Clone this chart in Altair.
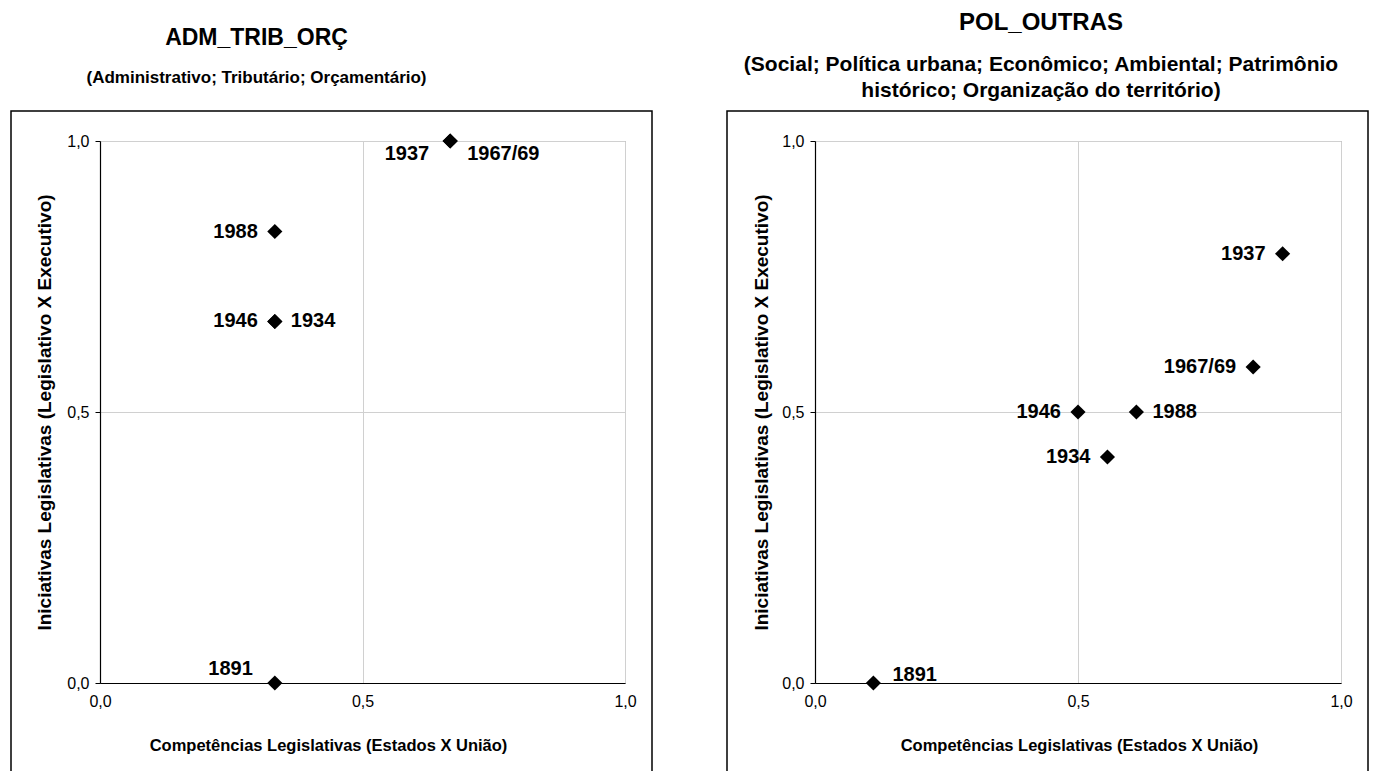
import altair as alt
import pandas as pd

# ---------------- data ----------------
adm_years = ["1891", "1988", "1946", "1934", "1937", "1967/69"]
adm_x = [0.333, 0.333, 0.333, 0.333, 0.667, 0.667]
adm_y = [0.0, 0.833, 0.667, 0.667, 1.0, 1.0]
adm_place = ["above-left", "left", "left", "right", "below-left", "below-right"]

pol_years = ["1891", "1946", "1988", "1934", "1967/69", "1937"]
pol_x = [0.111, 0.5, 0.611, 0.556, 0.833, 0.889]
pol_y = [0.0, 0.5, 0.5, 0.417, 0.583, 0.792]
pol_place = ["above-right", "left", "right", "left", "left", "left"]

tick_values = [0.0, 0.5, 1.0]

adm_title = "ADM_TRIB_ORÇ"
adm_subtitle = ["(Administrativo; Tributário; Orçamentário)"]
pol_title = "POL_OUTRAS"
pol_subtitle = ["(Social; Política urbana; Econômico; Ambiental; Patrimônio",
                "histórico; Organização do território)"]

x_title = "Competências Legislativas (Estados X União)"
y_title = "Iniciativas Legislativas  (Legislativo X Executivo)"

FONT = "Liberation Sans"

# label placement styles (kept in code, not in data)
PLACE = {
    "left": dict(align="right", dx=-17, dy=0),
    "right": dict(align="left", dx=16, dy=0),
    "above-left": dict(align="right", dx=-22, dy=-14),
    "above-right": dict(align="left", dx=19, dy=-8),
    "below-left": dict(align="right", dx=-21, dy=13),
    "below-right": dict(align="left", dx=17, dy=13),
}

LABEL_EXPR = "replace(format(datum.value, '.1f'), '.', ',')"


def panel(years, xs, ys, places, width, title, subtitle, title_dx, title_offset,
          title_size, sub_size, sub_pad, sub_lh,
          xtitle_x, ytitle_x, box_left, box_right):
    df = pd.DataFrame({"year": years, "x": xs, "y": ys, "place": places})
    xenc = alt.X("x:Q", scale=alt.Scale(domain=[0, 1], nice=False),
                 axis=alt.Axis(values=tick_values, labelExpr=LABEL_EXPR, title=x_title,
                               ticks=False, labelPadding=10, labelFlush=False,
                               titleX=xtitle_x, titleY=62, titleBaseline="middle",
                               titleAlign="center", titleFontSize=16.5))
    yenc = alt.Y("y:Q", scale=alt.Scale(domain=[0, 1], nice=False),
                 axis=alt.Axis(values=tick_values, labelExpr=LABEL_EXPR, title=y_title,
                               ticks=True, tickSize=5, labelPadding=6, labelFlush=False,
                               titleX=ytitle_x, titleY=271, titleAngle=-90,
                               titleBaseline="middle", titleAlign="center",
                               titleFontSize=19))
    frame = alt.Chart(pd.DataFrame({"frame": [0]})).mark_rect(
        filled=False, stroke="black", strokeWidth=1.5
    ).encode(x=alt.value(box_left), x2=alt.value(box_right),
             y=alt.value(-30), y2=alt.value(740))
    points = alt.Chart(df).mark_point(
        shape="diamond", filled=True, color="black", size=230, opacity=1
    ).encode(x=xenc, y=yenc)
    labels = []
    for p in dict.fromkeys(places):
        st = PLACE[p]
        labels.append(
            alt.Chart(df).transform_filter(alt.datum.place == p).mark_text(
                font=FONT, fontSize=20, fontWeight="bold", color="black",
                align=st["align"], baseline="middle", dx=st["dx"], dy=st["dy"]
            ).encode(x="x:Q", y="y:Q", text="year:N")
        )
    return alt.layer(frame, points, *labels).properties(
        width=width, height=542,
        title=alt.TitleParams(
            text=title, subtitle=subtitle, anchor="middle", frame="group",
            dx=title_dx, offset=title_offset,
            font=FONT, fontSize=title_size, fontWeight="bold", color="black",
            subtitleFont=FONT, subtitleFontSize=sub_size, subtitleFontWeight="bold",
            subtitleColor="black", subtitlePadding=sub_pad, subtitleLineHeight=sub_lh,
        ),
    )


left = panel(adm_years, adm_x, adm_y, adm_place, 525, adm_title, adm_subtitle,
             -106, 24, 23, 17, 20, 20, 228, -56, -89, 552)
right = panel(pol_years, pol_x, pol_y, pol_place, 526, pol_title, pol_subtitle,
              -37, 9, 24, 21, 19, 26, 264, -54, -88, 553)

chart = alt.hconcat(left, right, spacing=190, bounds="flush").properties(
    padding={"left": 1, "top": 2, "right": 0, "bottom": 0}
).configure_view(
    stroke="#909090", strokeWidth=1
).configure_axis(
    domainColor="black", domainWidth=1.2, tickColor="black",
    gridColor="#d0d0d0", gridWidth=1,
    labelFont=FONT, labelFontSize=16, labelColor="black",
    titleFont=FONT, titleFontWeight="bold", titleColor="black",
)

chart.save("out.html", embed_options={"renderer": "svg", "actions": False})
